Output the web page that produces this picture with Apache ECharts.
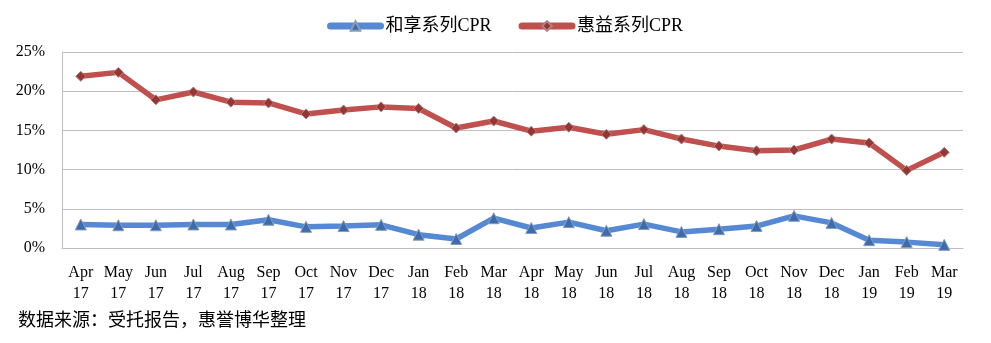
<!DOCTYPE html>
<html><head><meta charset="utf-8">
<script src="https://cdn.jsdelivr.net/npm/echarts@6/dist/echarts.min.js"></script>
<style>html,body{margin:0;padding:0;background:#fff}#c{width:991px;height:343px}</style>
</head><body><div id="c"></div>
<script>
const categories = ['Apr\n17','May\n17','Jun\n17','Jul\n17','Aug\n17','Sep\n17','Oct\n17','Nov\n17','Dec\n17','Jan\n18','Feb\n18','Mar\n18','Apr\n18','May\n18','Jun\n18','Jul\n18','Aug\n18','Sep\n18','Oct\n18','Nov\n18','Dec\n18','Jan\n19','Feb\n19','Mar\n19'];
const hexiang = [3.0,2.9,2.9,3.0,3.0,3.6,2.7,2.8,2.95,1.7,1.15,3.8,2.55,3.3,2.2,3.05,2.05,2.4,2.8,4.1,3.2,1.0,0.75,0.4];
const huiyi = [21.9,22.4,18.9,19.9,18.6,18.5,17.1,17.6,18.0,17.8,15.3,16.2,14.9,15.4,14.5,15.1,13.9,13.0,12.4,12.5,13.9,13.4,9.9,12.2];
const seriesNames = ['和享系列CPR','惠益系列CPR'];
const yTicks = [0,5,10,15,20,25];

const chart = echarts.init(document.getElementById('c'));
const serif = '"Liberation Serif","Noto Sans CJK SC",serif';
chart.setOption({
  animation:false,
  legend:{top:12,left:322,itemWidth:50,itemHeight:12,itemGap:27,
    lineStyle:{width:7,cap:'round'},
    textStyle:{fontFamily:serif,fontSize:18,color:'#000'},
    data:seriesNames},
  grid:{left:62,right:28,top:52,bottom:95},
  xAxis:{type:'category',data:categories,boundaryGap:true,
    axisLine:{lineStyle:{color:'#bfbfbf'}},axisTick:{show:false},
    axisLabel:{interval:0,fontFamily:serif,fontSize:16,color:'#000',lineHeight:21,margin:14}},
  yAxis:{type:'value',min:0,max:25,interval:5,
    axisLine:{show:true,lineStyle:{color:'#bfbfbf'}},
    splitLine:{lineStyle:{color:'#bfbfbf'}},
    axisLabel:{formatter:v=>v+'%',fontFamily:serif,fontSize:16,color:'#000',margin:17}},
  series:[
    {name:seriesNames[0],type:'line',data:hexiang,symbol:'triangle',symbolSize:11,
     lineStyle:{color:'#5689d3',width:5.5},itemStyle:{color:'#3c6cae',borderColor:'#8a9bb5',borderWidth:1},color:'#5689d3'},
    {name:seriesNames[1],type:'line',data:huiyi,symbol:'diamond',symbolSize:10,
     lineStyle:{color:'#c0504d',width:5.5},itemStyle:{color:'#943634',borderColor:'#b08080',borderWidth:1},color:'#c0504d'}
  ],
  graphic:[{type:'text',left:18,top:310,style:{text:'数据来源：受托报告，惠誉博华整理',font:'18px "Noto Sans CJK SC"',fill:'#000'}}]
});
</script></body></html>
